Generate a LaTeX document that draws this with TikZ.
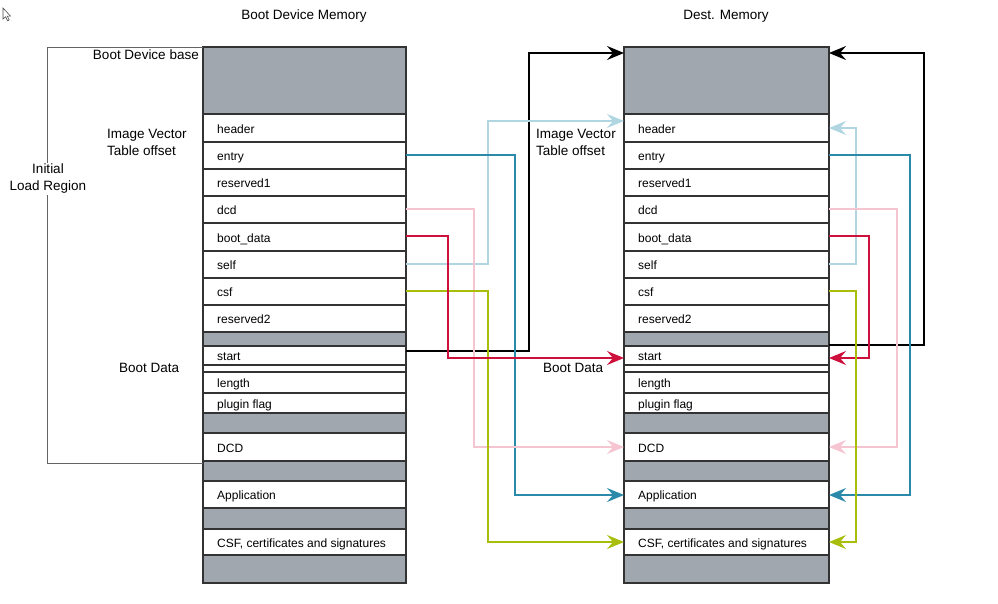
\documentclass[tikz,border=0pt]{standalone}
\usepackage{fontspec}
\setmainfont{Liberation Sans}
\usetikzlibrary{arrows.meta}
\definecolor{cellgray}{RGB}{160,167,175}
\definecolor{cellborder}{RGB}{51,51,51}
\definecolor{cteal}{RGB}{43,138,170}
\definecolor{clblue}{RGB}{176,214,226}
\definecolor{cpink}{RGB}{245,198,210}
\definecolor{cred}{RGB}{206,16,60}
\definecolor{cgreen}{RGB}{168,190,10}
\definecolor{cbracket}{RGB}{100,100,100}
\tikzset{
  cellL/.style={draw=cellborder, line width=1.3pt, minimum width=203pt, inner sep=0pt, outer sep=0pt},
  cellR/.style={draw=cellborder, line width=1.3pt, minimum width=205pt, inner sep=0pt, outer sep=0pt},
  rowtext/.style={font=\fontsize{12}{14}\selectfont, inner sep=0pt, text height=8.6pt, text depth=0pt},
  lbl/.style={font=\fontsize{13.5}{17}\selectfont, inner sep=0pt},
  conn/.style={line width=1.5pt, -{Stealth[length=17pt,width=14pt,inset=6pt]}},
}
\begin{document}
\begin{tikzpicture}[x=1pt,y=-1pt]
\useasboundingbox (0,0) rectangle (998,603);
% mouse pointer
\draw[line width=0.6pt, draw=black!70, fill=white] (3,8) -- (3,19) -- (5.6,16.8) -- (7.6,20.8) -- (9.2,20) -- (7.3,16.1) -- (10.5,16.1) -- cycle;
% titles
\node[lbl] (tL) at (304,16) {Boot Device Memory};
\node[lbl] (tR) at (726,16) {Dest. Memory};
% rows
\foreach \i/\t/\b/\lab/\f in {
  1/47/114//cellgray,
  2/114/142/header/white,
  3/142/169/entry/white,
  4/169/196/reserved1/white,
  5/196/223/dcd/white,
  6/223/251/boot\_data/white,
  7/251/278/self/white,
  8/278/305/csf/white,
  9/305/332/reserved2/white,
  10/332/346//cellgray,
  11/346/365/start/white,
  12/365/372//white,
  13/372/393/length/white,
  14/393/413/plugin flag/white,
  15/413/433//cellgray,
  16/433/461/DCD/white,
  17/461/481//cellgray,
  18/481/508/Application/white,
  19/508/529//cellgray,
  20/529/555/{CSF, certificates and signatures}/white,
  21/555/583//cellgray}{
  \node[cellL, fill=\f, minimum height={(\b-\t)*1pt}] (L\i) at (304.5,{(\t+\b)/2}) {};
  \node[cellR, fill=\f, minimum height={(\b-\t)*1pt}] (R\i) at (726.5,{(\t+\b)/2}) {};
  \node[rowtext, anchor=west] (Lt\i) at ([xshift=14pt,yshift=-1pt]L\i.west) {\lab};
  \node[rowtext, anchor=west] (Rt\i) at ([xshift=14pt,yshift=-1pt]R\i.west) {\lab};
}
% left labels
\draw[cbracket, line width=0.9pt] (L1.north west) -- (47,47) -- (47,463) -- (L17.north west |- 47,463);
\node[lbl, anchor=east] (bdb) at (199,55) {Boot Device base};
\node[lbl, align=left, anchor=west] (ivtL) at (107,142) {Image Vector\\Table offset};
\node[lbl, align=center, fill=white, inner sep=1.5pt] (ilr) at (48,179) {Initial\\Load Region};
\node[lbl, anchor=west] (bdL) at (119,368) {Boot Data};
\node[lbl, align=left, anchor=west, fill=white, inner sep=1pt] (ivtR) at (535,142) {Image Vector\\Table offset};
\node[lbl, anchor=west] (bdR) at (543,368) {Boot Data};
% connectors left -> right
\draw[conn, black] ([yshift=4.5pt]L11.east) -| (529,53) -- (R1.west |- 529,53);
\draw[conn, clblue] ([yshift=0.5pt]L7.east) -| (488,121) -- (R2.west |- 488,121);
\draw[conn, cteal] ([yshift=0.5pt]L3.east) -| (515,495) -- (R18.west |- 515,495);
\draw[conn, cpink] ([yshift=0.5pt]L5.east) -| (474,447) -- (R16.west |- 474,447);
\draw[conn, cgreen] (L8.east |- 406,291) -| (488,542) -- (R20.west |- 488,542);
\draw[conn, cred] (L6.east |- 406,236) -| (448,358) -- (R11.west |- 448,358);
% connectors right side
\draw[conn, black] ([yshift=1pt]R11.north east) -| (924,53) -- (R1.east |- 924,53);
\draw[conn, clblue] ([yshift=0.5pt]R7.east) -| (856,128) -- (R2.east);
\draw[conn, cteal] ([yshift=0.5pt]R3.east) -| (910,495) -- (R18.east |- 910,495);
\draw[conn, cpink] ([yshift=0.5pt]R5.east) -| (897,447) -- (R16.east |- 897,447);
\draw[conn, cred] (R6.east |- 829,236) -| (869,358) -- (R11.east |- 869,358);
\draw[conn, cgreen] (R8.east |- 829,291) -| (856,542) -- (R20.east |- 856,542);
\end{tikzpicture}
\end{document}
